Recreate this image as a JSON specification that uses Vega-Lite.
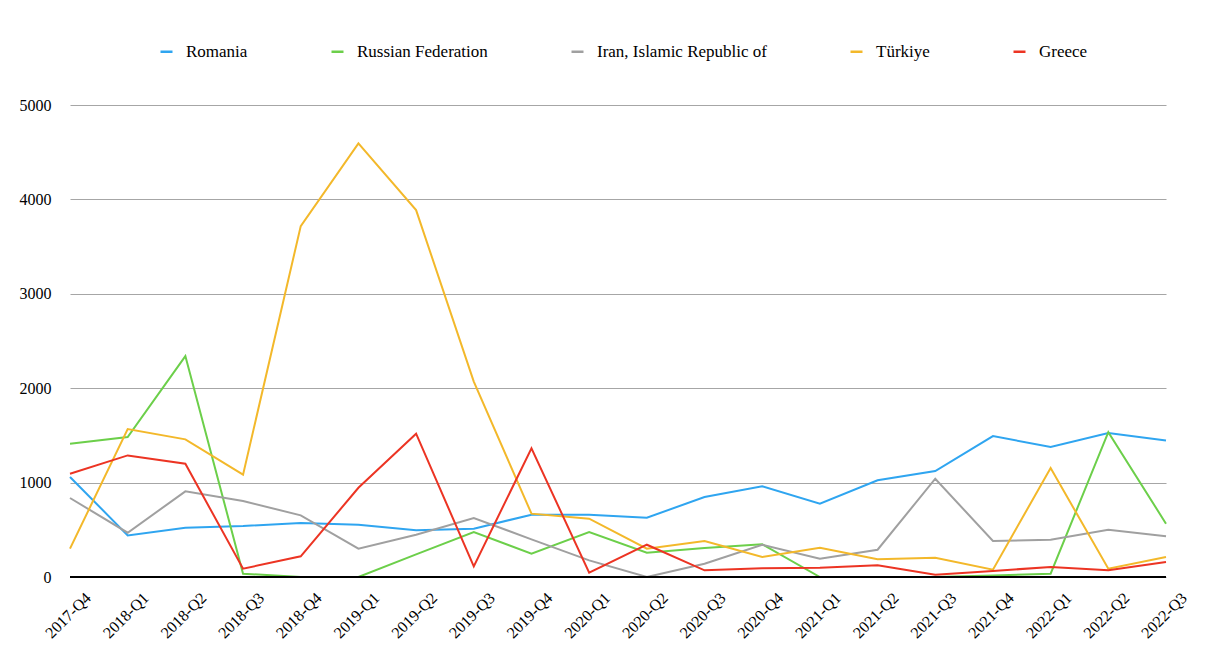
{
  "$schema": "https://vega.github.io/schema/vega-lite/v6.json",
  "width": 1096,
  "height": 472,
  "autosize": {"type": "none"},
  "padding": {"left": 70, "top": 105, "right": 39, "bottom": 73},
  "background": "white",
  "config": {"view": {"stroke": null}, "font": "'Liberation Serif', 'Times New Roman', serif"},
  "datasets": {
    "series": [
      {"quarter": "2017-Q4", "Romania": 1060, "Russian Federation": 1412, "Iran, Islamic Republic of": 837, "Türkiye": 300, "Greece": 1094},
      {"quarter": "2018-Q1", "Romania": 441, "Russian Federation": 1483, "Iran, Islamic Republic of": 469, "Türkiye": 1567, "Greece": 1288},
      {"quarter": "2018-Q2", "Romania": 522, "Russian Federation": 2340, "Iran, Islamic Republic of": 907, "Türkiye": 1458, "Greece": 1200},
      {"quarter": "2018-Q3", "Romania": 540, "Russian Federation": 35, "Iran, Islamic Republic of": 805, "Türkiye": 1084, "Greece": 88},
      {"quarter": "2018-Q4", "Romania": 572, "Russian Federation": 0, "Iran, Islamic Republic of": 653, "Türkiye": 3717, "Greece": 219},
      {"quarter": "2019-Q1", "Romania": 554, "Russian Federation": 0, "Iran, Islamic Republic of": 300, "Türkiye": 4594, "Greece": 945},
      {"quarter": "2019-Q2", "Romania": 494, "Russian Federation": 240, "Iran, Islamic Republic of": 448, "Türkiye": 3887, "Greece": 1518},
      {"quarter": "2019-Q3", "Romania": 512, "Russian Federation": 477, "Iran, Islamic Republic of": 625, "Türkiye": 2070, "Greece": 113},
      {"quarter": "2019-Q4", "Romania": 660, "Russian Federation": 247, "Iran, Islamic Republic of": 399, "Türkiye": 671, "Greece": 1363},
      {"quarter": "2020-Q1", "Romania": 660, "Russian Federation": 477, "Iran, Islamic Republic of": 176, "Türkiye": 618, "Greece": 46},
      {"quarter": "2020-Q2", "Romania": 628, "Russian Federation": 258, "Iran, Islamic Republic of": 0, "Türkiye": 300, "Greece": 342},
      {"quarter": "2020-Q3", "Romania": 847, "Russian Federation": 307, "Iran, Islamic Republic of": 141, "Türkiye": 381, "Greece": 71},
      {"quarter": "2020-Q4", "Romania": 960, "Russian Federation": 346, "Iran, Islamic Republic of": 342, "Türkiye": 212, "Greece": 92},
      {"quarter": "2021-Q1", "Romania": 777, "Russian Federation": 0, "Iran, Islamic Republic of": 194, "Türkiye": 310, "Greece": 97},
      {"quarter": "2021-Q2", "Romania": 1024, "Russian Federation": 0, "Iran, Islamic Republic of": 289, "Türkiye": 187, "Greece": 124},
      {"quarter": "2021-Q3", "Romania": 1123, "Russian Federation": 0, "Iran, Islamic Republic of": 1041, "Türkiye": 205, "Greece": 25},
      {"quarter": "2021-Q4", "Romania": 1493, "Russian Federation": 15, "Iran, Islamic Republic of": 381, "Türkiye": 78, "Greece": 64},
      {"quarter": "2022-Q1", "Romania": 1377, "Russian Federation": 35, "Iran, Islamic Republic of": 395, "Türkiye": 1154, "Greece": 106},
      {"quarter": "2022-Q2", "Romania": 1525, "Russian Federation": 1535, "Iran, Islamic Republic of": 501, "Türkiye": 88, "Greece": 71},
      {"quarter": "2022-Q3", "Romania": 1447, "Russian Federation": 565, "Iran, Islamic Republic of": 431, "Türkiye": 212, "Greece": 159}
    ]
  },
  "data": {"name": "series"},
  "layer": [
    {
      "transform": [
        {"fold": ["Romania", "Russian Federation", "Iran, Islamic Republic of", "Türkiye", "Greece"], "as": ["country", "value"]}
      ],
      "mark": {"type": "line", "strokeWidth": 2},
      "encoding": {
        "x": {
          "field": "quarter", "type": "ordinal", "sort": null,
          "scale": {"type": "point", "padding": 0},
          "axis": {"title": null, "labelAngle": -45, "labelAlign": "right", "labelBaseline": "middle", "labelFontSize": 16, "labelColor": "black", "ticks": false, "domain": false, "labelPadding": 18, "labelOffset": 18, "labelFont": "'Liberation Serif', 'Times New Roman', serif"}
        },
        "y": {
          "field": "value", "type": "quantitative",
          "scale": {"domain": [0, 5000], "nice": false},
          "axis": {"title": null, "values": [0, 1000, 2000, 3000, 4000, 5000], "format": "d", "labelFontSize": 16, "labelColor": "black", "ticks": false, "domain": false, "gridColor": "#a6a6a6", "gridWidth": 1.2, "labelPadding": 19, "labelFont": "'Liberation Serif', 'Times New Roman', serif"}
        },
        "color": {
          "field": "country", "type": "nominal",
          "scale": {
            "domain": ["Romania", "Russian Federation", "Iran, Islamic Republic of", "Türkiye", "Greece"],
            "range": ["#2fa5f0", "#6ccf4a", "#a0a0a0", "#f3b82a", "#ec3423"]
          },
          "legend": {
            "title": null, "orient": "none", "legendX": 88, "legendY": -62,
            "direction": "horizontal", "columnPadding": 78,
            "symbolType": "stroke", "symbolSize": 144, "symbolStrokeWidth": 2.5,
            "labelFontSize": 17, "labelColor": "black", "labelFont": "'Liberation Serif', 'Times New Roman', serif", "labelOffset": 11, "labelLimit": 400
          }
        }
      }
    },
    {
      "mark": {"type": "rule", "color": "black", "strokeWidth": 2},
      "encoding": {"y": {"datum": 0}}
    }
  ]
}
